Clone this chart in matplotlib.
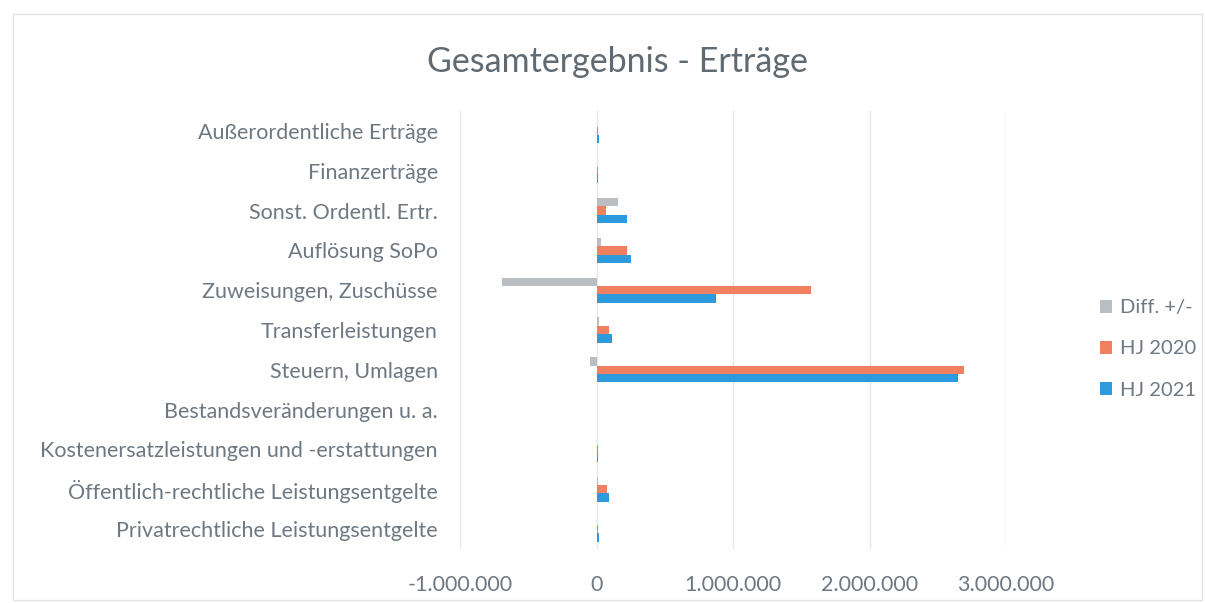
import numpy as np
import matplotlib.pyplot as plt
from matplotlib.patches import Rectangle

# categories bottom -> top
categories = ["Privatrechtliche Leistungsentgelte",
              "Öffentlich-rechtliche Leistungsentgelte",
              "Kostenersatzleistungen und -erstattungen",
              "Bestandsveränderungen u. a.",
              "Steuern, Umlagen",
              "Transferleistungen",
              "Zuweisungen, Zuschüsse",
              "Auflösung SoPo",
              "Sonst. Ordentl. Ertr.",
              "Finanzerträge",
              "Außerordentliche Erträge"]

hj_2021 = [16000, 88000, 14000, 0, 2646000, 115000, 879000, 256000, 225000, 14000, 15000]
hj_2020 = [13000, 76000, 10000, 0, 2690000, 94000, 1574000, 225000, 70000, 11000, 12000]
diff = [5000, 12000, 6000, 0, -44000, 21000, -695000, 31000, 155000, 5000, 4000]

xticks = [-1000000, 0, 1000000, 2000000, 3000000]
xtick_labels = ["-1.000.000", "0", "1.000.000", "2.000.000", "3.000.000"]

c_diff = "#B9BEC3"
c_2020 = "#F0805F"
c_2021 = "#2C9ADC"
txt = "#6E7882"

plt.rcParams['font.family'] = ['Lato', 'DejaVu Sans']

fig = plt.figure(figsize=(12.05, 6.03), dpi=100)
ax = fig.add_axes([460/1205, 1-549/603, 546/1205, 438/603])

y = np.arange(len(categories))
h = 0.21
ax.barh(y - h, hj_2021, height=h, color=c_2021, label="HJ 2021", zorder=3)
ax.barh(y, hj_2020, height=h, color=c_2020, label="HJ 2020", zorder=3)
ax.barh(y + h, diff, height=h, color=c_diff, label="Diff. +/-", zorder=3)

ax.set_xlim(-1000000, 3000000)
ax.set_ylim(-0.5, len(categories) - 0.5)
ax.set_xticks(xticks)
ax.set_xticklabels(xtick_labels)
ax.set_yticks(y)
ax.set_yticklabels(categories)
ax.tick_params(axis='both', length=0, labelsize=15.5, labelcolor=txt)
ax.tick_params(axis='y', pad=16)
ax.tick_params(axis='x', pad=19)
ax.grid(axis='x', color="#E6E6E6", linewidth=1, zorder=0)
for s in ax.spines.values():
    s.set_visible(False)

fig.text(617/1205, 1-62/603, "Gesamtergebnis - Erträge", ha='center', va='center',
         fontsize=24.5, color="#5F6A72")

handles, labels = ax.get_legend_handles_labels()
leg = fig.legend(handles[::-1], labels[::-1], loc='center left',
                 bbox_to_anchor=(1082/1205, 1-349/603), frameon=False,
                 fontsize=14.5, labelcolor=txt, handlelength=0.6, handleheight=0.6,
                 handletextpad=0.4, labelspacing=1.2)

fig.patches.append(Rectangle((13/1205, 3/603), 1189/1205, 586/603,
                             transform=fig.transFigure, fill=False,
                             edgecolor="#E3E3E3", linewidth=1))

fig.savefig("out.png", dpi=100)
